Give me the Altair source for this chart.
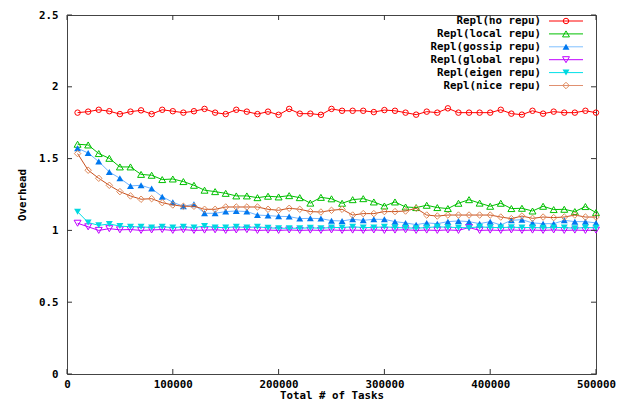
import altair as alt
import pandas as pd

# ---------------- data ----------------
tasks = [10000, 20000, 30000, 40000, 50000, 60000, 70000, 80000, 90000, 100000,
         110000, 120000, 130000, 140000, 150000, 160000, 170000, 180000, 190000, 200000,
         210000, 220000, 230000, 240000, 250000, 260000, 270000, 280000, 290000, 300000,
         310000, 320000, 330000, 340000, 350000, 360000, 370000, 380000, 390000, 400000,
         410000, 420000, 430000, 440000, 450000, 460000, 470000, 480000, 490000, 500000]

no_repu = [1.82, 1.827, 1.84, 1.83, 1.81, 1.827, 1.836, 1.81, 1.84, 1.83,
           1.82, 1.83, 1.846, 1.82, 1.81, 1.84, 1.827, 1.81, 1.827, 1.805,
           1.846, 1.813, 1.813, 1.805, 1.846, 1.833, 1.833, 1.833, 1.824, 1.838,
           1.833, 1.82, 1.806, 1.827, 1.82, 1.85, 1.82, 1.82, 1.82, 1.82,
           1.84, 1.813, 1.806, 1.833, 1.813, 1.827, 1.82, 1.82, 1.833, 1.82]

local_repu = [1.60, 1.595, 1.535, 1.502, 1.442, 1.442, 1.39, 1.384, 1.354, 1.358,
              1.34, 1.314, 1.28, 1.27, 1.258, 1.24, 1.24, 1.228, 1.238, 1.233,
              1.242, 1.228, 1.19, 1.23, 1.22, 1.189, 1.214, 1.221, 1.198, 1.17,
              1.198, 1.163, 1.159, 1.175, 1.159, 1.152, 1.189, 1.214, 1.19, 1.168,
              1.189, 1.152, 1.154, 1.135, 1.168, 1.145, 1.147, 1.131, 1.166, 1.124]

gossip_repu = [1.572, 1.539, 1.479, 1.407, 1.363, 1.31, 1.314, 1.291, 1.235, 1.196,
               1.168, 1.182, 1.119, 1.119, 1.131, 1.135, 1.131, 1.107, 1.103, 1.098,
               1.096, 1.082, 1.084, 1.082, 1.068, 1.066, 1.077, 1.07, 1.077, 1.077,
               1.061, 1.052, 1.04, 1.052, 1.047, 1.061, 1.066, 1.061, 1.047, 1.061,
               1.038, 1.07, 1.075, 1.052, 1.047, 1.047, 1.07, 1.061, 1.061, 1.052]

global_repu = [1.05, 1.025, 1.0, 1.012, 1.004, 1.006, 1.0, 1.003, 1.006, 1.0,
               1.005, 1.0, 1.002, 1.004, 1.0, 1.003, 1.005, 1.0, 1.002, 1.0,
               1.003, 1.0, 1.002, 1.0, 1.003, 1.0, 1.002, 1.0, 1.003, 1.0,
               1.002, 1.004, 1.0, 1.002, 1.0, 1.003, 1.0, 1.02, 1.0, 1.002,
               1.0, 1.003, 1.0, 1.002, 1.0, 1.003, 1.0, 1.002, 1.0, 1.002]

eigen_repu = [1.13, 1.055, 1.035, 1.045, 1.03, 1.025, 1.025, 1.02, 1.025, 1.02,
              1.025, 1.02, 1.03, 1.02, 1.02, 1.025, 1.02, 1.025, 1.018, 1.015,
              1.015, 1.015, 1.018, 1.015, 1.02, 1.02, 1.025, 1.02, 1.02, 1.025,
              1.02, 1.018, 1.015, 1.02, 1.025, 1.022, 1.02, 1.018, 1.025, 1.02,
              1.02, 1.022, 1.02, 1.02, 1.018, 1.02, 1.02, 1.015, 1.02, 1.018]

nice_repu = [1.535, 1.419, 1.363, 1.314, 1.27, 1.24, 1.217, 1.221, 1.193, 1.177,
             1.168, 1.168, 1.147, 1.147, 1.163, 1.163, 1.163, 1.163, 1.147, 1.14,
             1.154, 1.147, 1.131, 1.128, 1.14, 1.147, 1.107, 1.117, 1.117, 1.131,
             1.131, 1.135, 1.154, 1.107, 1.1, 1.107, 1.107, 1.107, 1.107, 1.107,
             1.093, 1.082, 1.1, 1.084, 1.093, 1.089, 1.093, 1.107, 1.093, 1.093]

series_names = ["Repl(no repu)", "Repl(local repu)", "Repl(gossip repu)",
                "Repl(global repu)", "Repl(eigen repu)", "Repl(nice repu)"]
series_values = [no_repu, local_repu, gossip_repu, global_repu, eigen_repu, nice_repu]

x_ticks = [0, 100000, 200000, 300000, 400000, 500000]
y_ticks = [0, 0.5, 1, 1.5, 2, 2.5]

# ---------------- styles / layout ----------------
styles = [
    dict(line="#ff0000", leg="#ff0000", mark="#ff0000", shape="circle", filled=False, size=30),
    dict(line="#00c000", leg="#00c000", mark="#00c000", shape="triangle-up", filled=False, size=48),
    dict(line="#70b4ff", leg="#80c0ff", mark="#0078f0", shape="triangle-up", filled=True, size=48),
    dict(line="#c000ff", leg="#c000ff", mark="#c000ff", shape="triangle-down", filled=False, size=48),
    dict(line="#00e0e8", leg="#00e0e8", mark="#00d8e0", shape="triangle-down", filled=True, size=48),
    dict(line="#c8501e", leg="#e09070", mark="#e08a5a", shape="diamond", filled=False, size=42),
]

W, H = 529, 359
FONT = "DejaVu Sans Mono"
FS = 10.8
TICK = 5

xs = alt.Scale(domain=[0, 500000], nice=False, zero=False)
ys = alt.Scale(domain=[0, 2.5], nice=False, zero=False)

xaxis = alt.Axis(values=x_ticks, format="d", title="Total # of Tasks", grid=False,
                 ticks=False, domain=False, labelFont=FONT, labelFontWeight="bold",
                 labelFontSize=FS, labelColor="black", labelBaseline="middle",
                 labelPadding=10, labelOverlap=False, labelFlush=False,
                 titleFont=FONT, titleFontWeight="bold", titleFontSize=FS,
                 titleColor="black", titleX=W / 2, titleY=21, titleBaseline="middle")
yaxis = alt.Axis(values=y_ticks, format="~g", title="Overhead", grid=False,
                 ticks=False, domain=False, labelFont=FONT, labelFontWeight="bold",
                 labelFontSize=FS, labelColor="black", labelPadding=9,
                 labelOverlap=False, labelFlush=False,
                 titleFont=FONT, titleFontWeight="bold", titleFontSize=FS,
                 titleColor="black", titleX=-45, titleY=H / 2, titleAngle=270,
                 titleBaseline="middle", titleAlign="center")

layers = []

# data series
for name, vals, st in zip(series_names, series_values, styles):
    df = pd.DataFrame({"x": tasks, "y": vals})
    base = alt.Chart(df).encode(
        x=alt.X("x:Q", scale=xs, axis=xaxis),
        y=alt.Y("y:Q", scale=ys, axis=yaxis),
    )
    layers.append(base.mark_line(color=st["line"], strokeWidth=1))
    layers.append(base.mark_point(shape=st["shape"], filled=st["filled"],
                                  color=st["mark"], size=st["size"],
                                  strokeWidth=1, opacity=1))

# inward ticks (gnuplot style, mirrored)
xt_df = pd.DataFrame({"x": x_ticks})
yt_df = pd.DataFrame({"y": y_ticks})
tick_col = "#333333"
layers.append(alt.Chart(xt_df).mark_rule(color=tick_col).encode(
    x=alt.X("x:Q", scale=xs, axis=xaxis), y=alt.value(H), y2=alt.value(H - TICK)))
layers.append(alt.Chart(xt_df).mark_rule(color=tick_col).encode(
    x=alt.X("x:Q", scale=xs, axis=xaxis), y=alt.value(0), y2=alt.value(TICK)))
layers.append(alt.Chart(yt_df).mark_rule(color=tick_col).encode(
    y=alt.Y("y:Q", scale=ys, axis=yaxis), x=alt.value(0), x2=alt.value(TICK)))
layers.append(alt.Chart(yt_df).mark_rule(color=tick_col).encode(
    y=alt.Y("y:Q", scale=ys, axis=yaxis), x=alt.value(W), x2=alt.value(W - TICK)))

# legend (top right, text right-aligned, sample to the right)
LEG_TOP, LEG_STEP = 6, 12.9
TEXT_RIGHT, SAMPLE_L, SAMPLE_R = 474, 482, 516
for i, (name, st) in enumerate(zip(series_names, styles)):
    ly = LEG_TOP + i * LEG_STEP
    ldf = pd.DataFrame({"name": [name]})
    layers.append(alt.Chart(ldf).mark_text(
        align="right", baseline="middle", font=FONT, fontWeight="bold",
        fontSize=FS, color="black").encode(
        x=alt.value(TEXT_RIGHT), y=alt.value(ly), text="name:N"))
    layers.append(alt.Chart(ldf).mark_rule(color=st["leg"], strokeWidth=1).encode(
        x=alt.value(SAMPLE_L), x2=alt.value(SAMPLE_R), y=alt.value(ly)))
    layers.append(alt.Chart(ldf).mark_point(
        shape=st["shape"], filled=st["filled"], color=st["mark"], size=st["size"],
        strokeWidth=1, opacity=1).encode(
        x=alt.value((SAMPLE_L + SAMPLE_R) / 2), y=alt.value(ly)))

chart = alt.layer(*layers).properties(
    width=W, height=H,
    autosize=alt.AutoSizeParams(type="none"),
    padding={"left": 59, "top": 7, "right": 20, "bottom": 28},
    background="white",
).configure_view(stroke="#444444", strokeWidth=1)

chart.save("out.html", embed_options={"renderer": "svg", "actions": False})
